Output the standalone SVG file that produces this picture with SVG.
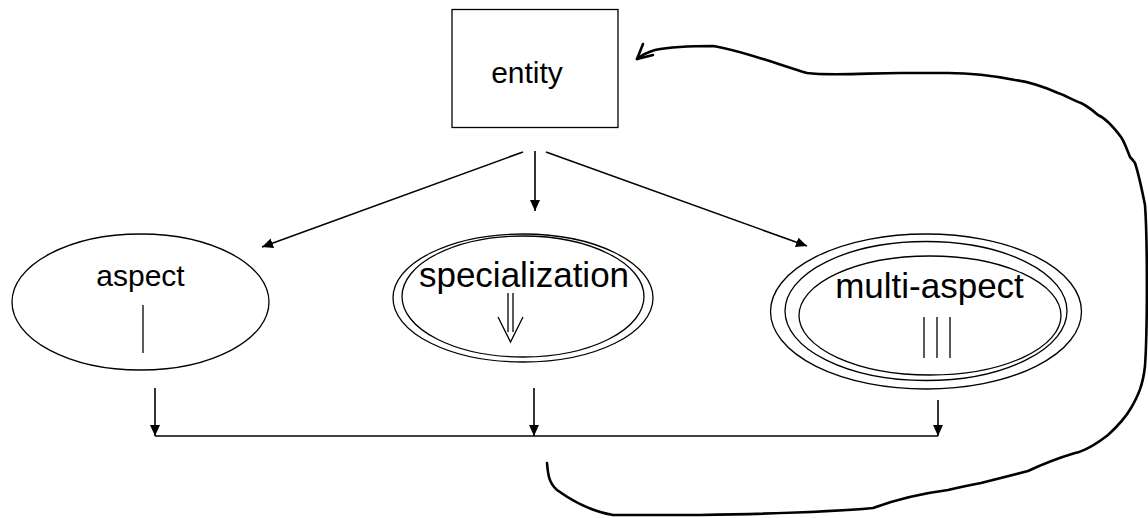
<svg xmlns="http://www.w3.org/2000/svg" width="1148" height="518" viewBox="0 0 1148 518">
  <style>
    .shape { fill: none; stroke: #000; stroke-width: 1.3; }
    .label { font-family: "Liberation Sans", Arial, sans-serif; fill: #000; text-anchor: middle; }
    .edge { fill: none; stroke: #000; stroke-width: 1.6; }
    .loop { fill: none; stroke: #000; stroke-width: 2.6; stroke-linejoin: round; stroke-linecap: round; }
  </style>
  <defs>
    <marker id="tri" markerWidth="12" markerHeight="12" refX="11" refY="5" orient="auto" markerUnits="userSpaceOnUse">
      <path d="M0,0 L11,5 L0,10 Z" fill="#000"/>
    </marker>
  </defs>
  <rect width="1148" height="518" fill="#fff"/>

  <g id="entity">
    <rect class="shape" x="452" y="9.5" width="166" height="118"/>
    <text class="label" x="527" y="83" font-size="30">entity</text>
  </g>

  <g id="aspect">
    <ellipse class="shape" cx="140.5" cy="302" rx="128.5" ry="68"/>
    <text class="label" x="140.5" y="286" font-size="30">aspect</text>
    <line class="shape" x1="143" y1="305" x2="143" y2="353"/>
  </g>

  <g id="specialization">
    <ellipse class="shape" cx="523" cy="298" rx="130" ry="64"/>
    <ellipse class="shape" cx="523" cy="296.5" rx="121" ry="60.5"/>
    <text class="label" x="524" y="287" font-size="35">specialization</text>
    <line class="shape" x1="508" y1="293" x2="508" y2="332"/>
    <line class="shape" x1="513" y1="293" x2="513" y2="332"/>
    <polyline class="shape" points="498,317 510.5,342 523,317"/>
  </g>

  <g id="multi-aspect">
    <ellipse class="shape" cx="926" cy="311.5" rx="155.5" ry="77.5"/>
    <ellipse class="shape" cx="926" cy="311" rx="141" ry="69.5"/>
    <ellipse class="shape" cx="930" cy="315.5" rx="131" ry="59.5"/>
    <text class="label" x="929.5" y="298" font-size="35">multi-aspect</text>
    <line class="shape" x1="924" y1="317" x2="924" y2="358"/>
    <line class="shape" x1="937" y1="317" x2="937" y2="358"/>
    <line class="shape" x1="950" y1="317" x2="950" y2="358"/>
  </g>

  <g id="connectors">
    <line class="edge" x1="523" y1="152" x2="262" y2="247" marker-end="url(#tri)"/>
    <line class="edge" x1="535" y1="151" x2="535" y2="211" marker-end="url(#tri)"/>
    <line class="edge" x1="546" y1="152" x2="807" y2="246" marker-end="url(#tri)"/>
    <line class="edge" x1="155" y1="388" x2="155" y2="436" marker-end="url(#tri)"/>
    <line class="edge" x1="534" y1="388" x2="534" y2="436" marker-end="url(#tri)"/>
    <line class="edge" x1="938" y1="400" x2="938" y2="436" marker-end="url(#tri)"/>
    <line class="edge" x1="155" y1="436" x2="938" y2="436"/>
    <!-- feedback loop back to entity, hugging the right edge -->
    <path class="loop" d="M547,463 C548,475 549,483 557,490 C575,503 595,512 613,515 L700,515 C760,514 830,512 873,508 C900,498 925,493 948,490 C960,487 970,485 981,483 L1028,471 C1045,463 1065,456 1075,453 C1085,451 1095,445 1108,435 C1120,424 1127,415 1131,408 C1138,396 1143,385 1145,366 C1147.5,330 1147.5,240 1145,205 C1142,190 1139,175 1135,163 C1133,160 1131,158 1130,157 C1127,150 1125,143 1121,137 C1112,125 1105,118 1098,115 C1090,108 1085,105 1081,103 C1072,100 1065,95 1058,93 C1040,85 1030,82 1015,80 C990,75 970,73 948,73 L900,73 C870,73 830,76 807,73 C780,65 740,50 713,46 C690,46 670,47 655,50 C648,52 642,55 637,59"/>
    <polyline class="loop" points="643,44 637,59 653,55"/>
  </g>
</svg>
